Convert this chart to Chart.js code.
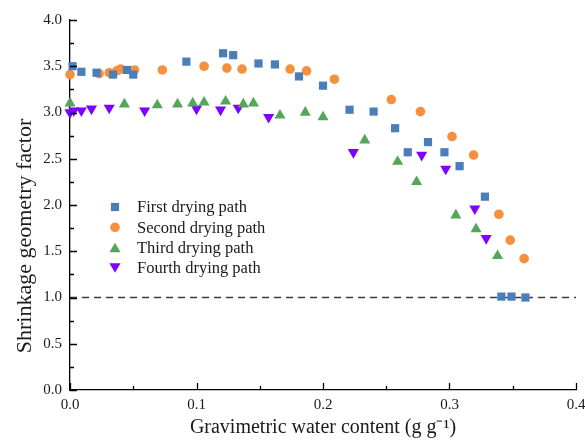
<!DOCTYPE html>
<html>
<head>
<meta charset="utf-8">
<style>
  html, body { margin: 0; padding: 0; background: #fff; }
  #wrap { width: 585px; height: 443px; }
</style>
<script src="https://cdn.jsdelivr.net/npm/chart.js@4.4.1/dist/chart.umd.min.js"></script>
</head>
<body>
<div id="wrap"><canvas id="chart" width="585" height="443"></canvas></div>
<script>
  // ---- data ----
  var firstX = [0.002, 0.009, 0.021, 0.034, 0.045, 0.050, 0.092, 0.121, 0.129, 0.149, 0.162, 0.181, 0.200, 0.221, 0.240, 0.257, 0.267, 0.283, 0.296, 0.308, 0.328, 0.341, 0.349, 0.360];
  var firstY = [3.50, 3.44, 3.43, 3.41, 3.46, 3.41, 3.55, 3.64, 3.62, 3.53, 3.52, 3.39, 3.29, 3.03, 3.01, 2.83, 2.57, 2.68, 2.57, 2.42, 2.09, 1.01, 1.01, 1.00];

  var secondX = [0.000, 0.023, 0.031, 0.037, 0.040, 0.051, 0.073, 0.106, 0.124, 0.136, 0.174, 0.187, 0.209, 0.254, 0.277, 0.302, 0.319, 0.339, 0.348, 0.359];
  var secondY = [3.41, 3.42, 3.43, 3.45, 3.47, 3.46, 3.46, 3.50, 3.48, 3.47, 3.47, 3.45, 3.36, 3.14, 3.01, 2.74, 2.54, 1.90, 1.62, 1.42];

  var thirdX = [0.000, 0.043, 0.069, 0.085, 0.097, 0.106, 0.123, 0.137, 0.145, 0.166, 0.186, 0.200, 0.233, 0.259, 0.274, 0.305, 0.321, 0.338];
  var thirdY = [3.10, 3.09, 3.08, 3.09, 3.10, 3.11, 3.12, 3.09, 3.10, 2.97, 3.00, 2.95, 2.70, 2.47, 2.25, 1.89, 1.74, 1.45];

  var fourthX = [0.000, 0.003, 0.009, 0.017, 0.031, 0.059, 0.100, 0.119, 0.133, 0.157, 0.224, 0.278, 0.297, 0.320, 0.329];
  var fourthY = [3.00, 3.02, 3.02, 3.04, 3.05, 3.02, 3.04, 3.03, 3.05, 2.95, 2.57, 2.54, 2.39, 1.96, 1.64];

  var refLineX = [0, 0.4];
  var refLineY = [1, 1];

  var seriesLabels = ['First drying path', 'Second drying path', 'Third drying path', 'Fourth drying path'];
  var xTicks = [0, 0.1, 0.2, 0.3, 0.4];
  var xTickLabels = ['0.0', '0.1', '0.2', '0.3', '0.4'];
  var yTicks = [0, 0.5, 1, 1.5, 2, 2.5, 3, 3.5, 4];
  var yTickLabels = ['0.0', '0.5', '1.0', '1.5', '2.0', '2.5', '3.0', '3.5', '4.0'];
  var xTitle = 'Gravimetric water content (g g\u207B\u00B9)';
  var yTitle = 'Shrinkage geometry factor';

  function pairs(xs, ys) {
    return xs.map(function (x, i) { return { x: x, y: ys[i] }; });
  }

  var serif = "'Liberation Serif', 'Times New Roman', serif";
  var textColor = '#1a1a1a';

  /* inward major/minor ticks, like the original plot */
  var innerTicks = {
    id: 'innerTicks',
    afterDraw: function (chart) {
      var ctx = chart.ctx, x = chart.scales.x, y = chart.scales.y;
      ctx.save();
      ctx.strokeStyle = '#000';
      ctx.lineWidth = 1.3;
      ctx.beginPath();
      xTicks.forEach(function (v, i) {
        var px = Math.round(x.getPixelForValue(v)) + 0.5;
        ctx.moveTo(px, y.bottom); ctx.lineTo(px, y.bottom - 7);
        if (i < xTicks.length - 1) {
          var pm = Math.round(x.getPixelForValue((v + xTicks[i + 1]) / 2)) + 0.5;
          ctx.moveTo(pm, y.bottom); ctx.lineTo(pm, y.bottom - 4);
        }
      });
      yTicks.forEach(function (v, i) {
        var py = Math.round(y.getPixelForValue(v)) + 0.5;
        ctx.moveTo(x.left, py); ctx.lineTo(x.left + 7, py);
        if (i < yTicks.length - 1) {
          var pm = Math.round(y.getPixelForValue((v + yTicks[i + 1]) / 2)) + 0.5;
          ctx.moveTo(x.left, pm); ctx.lineTo(x.left + 4, pm);
        }
      });
      ctx.stroke();
      ctx.restore();
    }
  };

  /* axis titles, placed where the original has them */
  var axisTitles = {
    id: 'axisTitles',
    afterDraw: function (chart) {
      var ctx = chart.ctx, area = chart.chartArea;
      ctx.save();
      ctx.fillStyle = textColor;
      ctx.textAlign = 'center';
      ctx.textBaseline = 'middle';
      ctx.font = '20px ' + serif;
      ctx.fillText(xTitle, (area.left + area.right) / 2, 428);
      ctx.translate(25, 236);
      ctx.rotate(-Math.PI / 2);
      ctx.font = '22px ' + serif;
      ctx.fillText(yTitle, 0, 0);
      ctx.restore();
    }
  };

  /* legend placed inside the plot area */
  var insideLegend = {
    id: 'insideLegend',
    afterDraw: function (chart) {
      var ctx = chart.ctx;
      var left = chart.chartArea.left + 45, top = chart.chartArea.top + 187, rowH = 20.3;
      ctx.save();
      ctx.font = '16.5px ' + serif;
      ctx.textBaseline = 'middle';
      ctx.textAlign = 'left';
      seriesLabels.forEach(function (label, i) {
        var ds = chart.data.datasets[i];
        var cy = top + i * rowH;
        ctx.fillStyle = ds.backgroundColor;
        ctx.strokeStyle = ds.backgroundColor;
        Chart.helpers.drawPoint(ctx, {
          pointStyle: ds.pointStyle,
          radius: ds.pointRadius,
          rotation: ds.pointRotation || 0,
          borderWidth: 0
        }, left, cy + (ds.pointStyle === 'triangle' ? (ds.pointRotation ? -1.5 : 1.5) : 0));
        ctx.fillStyle = textColor;
        ctx.fillText(label, left + 22, cy + 1);
      });
      ctx.restore();
    }
  };

  function scatterSet(i, xs, ys, color, style, radius, rot) {
    return {
      type: 'scatter',
      label: seriesLabels[i],
      data: pairs(xs, ys),
      backgroundColor: color,
      borderColor: color,
      pointStyle: style,
      pointRadius: radius,
      pointHoverRadius: radius,
      pointBorderWidth: 0,
      pointRotation: rot || 0
    };
  }

  new Chart(document.getElementById('chart').getContext('2d'), {
    type: 'scatter',
    data: {
      datasets: [
        scatterSet(0, firstX, firstY, '#4a7ebb', 'rect', 5.8),
        scatterSet(1, secondX, secondY, '#f5913e', 'circle', 4.8),
        scatterSet(2, thirdX, thirdY, '#55a65a', 'triangle', 6.4),
        scatterSet(3, fourthX, fourthY, '#7f00ff', 'triangle', 6.4, 180),
        {
          type: 'line',
          label: '',
          data: pairs(refLineX, refLineY),
          borderColor: '#3c3c3c',
          borderWidth: 1.6,
          borderDash: [7, 5],
          pointRadius: 0,
          fill: false
        }
      ]
    },
    options: {
      responsive: false,
      animation: false,
      devicePixelRatio: 1,
      layout: { padding: { top: 20, right: 9, bottom: 0, left: 0 } },
      plugins: { legend: { display: false }, tooltip: { enabled: false } },
      elements: { point: { hitRadius: 0 } },
      datasets: { scatter: { clip: false } },
      scales: {
        x: {
          type: 'linear',
          min: 0,
          max: 0.4,
          afterBuildTicks: function (s) { s.ticks = xTicks.map(function (v) { return { value: v }; }); },
          afterFit: function (s) { s.height = 53; s.paddingLeft = 0; s.paddingRight = 0; },
          ticks: {
            autoSkip: false,
            maxRotation: 0,
            padding: 6,
            color: textColor,
            font: { family: serif, size: 15 },
            callback: function (v, i) { return xTickLabels[i]; }
          },
          grid: { display: false, drawTicks: false },
          border: { color: '#000', width: 1.3 },
          title: { display: false }
        },
        y: {
          type: 'linear',
          min: 0,
          max: 4,
          afterBuildTicks: function (s) { s.ticks = yTicks.map(function (v) { return { value: v }; }); },
          afterFit: function (s) { s.width = 70; s.paddingTop = 0; s.paddingBottom = 0; },
          ticks: {
            autoSkip: false,
            padding: 8,
            color: textColor,
            font: { family: serif, size: 15 },
            callback: function (v, i) { return yTickLabels[i]; }
          },
          grid: { display: false, drawTicks: false },
          border: { color: '#000', width: 1.3 },
          title: { display: false }
        }
      }
    },
    plugins: [innerTicks, axisTitles, insideLegend]
  });
</script>
</body>
</html>
